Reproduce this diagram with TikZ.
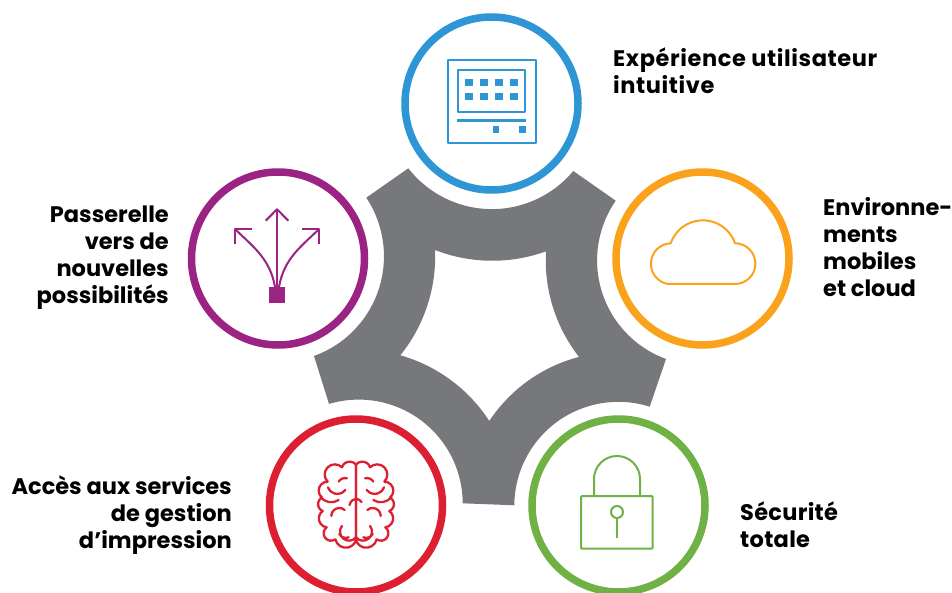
\documentclass[tikz,border=0pt]{standalone}
\usepackage{fontspec}
\setmainfont{Poppins}[BoldFont={Poppins Bold}]
\usetikzlibrary{svg.path}
\definecolor{cblue}{HTML}{2E96D5}
\definecolor{cpurple}{HTML}{9B2383}
\definecolor{corange}{HTML}{FAA21B}
\definecolor{cred}{HTML}{DC2032}
\definecolor{cgreen}{HTML}{6FB144}
\definecolor{cgray}{HTML}{77787B}
\tikzset{
  ring/.style={circle,draw,line width=7.5pt,minimum size=173pt,inner sep=0pt},
  lbl/.style={font=\bfseries\fontsize{22.5}{26.9}\selectfont,inner sep=0pt},
  icon/.style={line width=2pt,line join=round},
}
\begin{document}
\begin{tikzpicture}[x=1pt,y=-1pt]
\useasboundingbox (0,0) rectangle (952,593);
\clip (0,0) rectangle (952,593);
\begin{scope}[yscale=-1]
\fill[cgray,even odd rule] svg "M 408.3 168.3 A 106 106 0 0 0 573.3 171 L 615.7 200.7 A 105 105 0 0 0 666 359 L 649.7 406.7 A 104 104 0 0 0 514.3 504.3 L 462.7 503.3 A 104 104 0 0 0 329 404.7 L 314 356 A 106 106 0 0 0 366.3 197.7 Z M 435 250 A 157.6 157.6 0 0 0 546 251.3 A 157 157 0 0 0 579 357 A 154 154 0 0 0 489.3 421 A 157 157 0 0 0 400.3 355.3 A 157 157 0 0 0 435 250 Z";
\end{scope}
\node[ring,draw=cblue] (blue) at (491.5,103.5) {};
\node[ring,draw=cpurple] (purple) at (278,258.5) {};
\node[ring,draw=corange] (orange) at (702.5,258.5) {};
\node[ring,draw=cred] (red) at (356,505.5) {};
\node[ring,draw=cgreen] (green) at (618.5,505.5) {};
\node[lbl,anchor=north west,align=left] (t1) at (613,47.5) {\addfontfeature{LetterSpace=2.7}Expérience utilisateur\\\addfontfeature{LetterSpace=2.7}intuitive};
\node[lbl,anchor=north west,align=left] (t2) at (823,197.5) {Environne-\\ments\\mobiles\\et cloud};
\node[lbl,anchor=north west,align=left] (t3) at (740,501.5) {\addfontfeature{LetterSpace=1.3}Sécurité\\\addfontfeature{LetterSpace=1.3}totale};
\node[lbl,anchor=north east,align=right] (t4) at (232,476) {Accès aux services\\de gestion\\d’impression};
\node[lbl,anchor=north east,align=right] (t5) at (169,206) {Passerelle\\vers de\\nouvelles\\possibilités};
% keyboard
\begin{scope}[cblue]
\draw[icon] (447.5,60) rectangle (536,143);
\draw[icon] (458,70) rectangle (525,112);
\foreach \x in {469,484,499,514}\foreach \y in {82.7,96.7}
  \fill (\x-4,\y-3.5) rectangle (\x+4,\y+3.5);
\fill (457,118.8) rectangle (526,121.8);
\fill (492.5,126.5) rectangle (499,133);
\fill (519,126.5) rectangle (525.5,133);
\end{scope}
% arrows
\begin{scope}[cpurple,icon]
\fill (269,287) rectangle (284.7,302.7);
\draw (277,287) -- (277,209.5);
\draw (265.7,220.7) -- (277,209.3) -- (288.3,220.7);
\draw (275,287) .. controls (270,258) and (252,246) .. (235,229);
\draw (279,287) .. controls (284,258) and (302,246) .. (319,229);
\draw (235,244.3) -- (235,229) -- (251.7,229);
\draw (302.3,229) -- (319,229) -- (319,244.3);
\end{scope}
% cloud and lock shackle
\begin{scope}[yscale=-1]
\draw[corange,icon] svg "M 668 284 L 735 284 A 20.3 20.3 0 0 0 735 243.3 A 34 34 0 0 0 670.7 243.3 A 20.5 20.5 0 0 0 668 284 Z";
\draw[cgreen,icon] svg "M 594 496 L 594 479 A 23 23 0 0 1 617 456 A 23 23 0 0 1 640 479 L 640 496";
\end{scope}
\draw[cgreen,icon,rounded corners=1pt] (581,496) rectangle (652.7,548.7);
\draw[cgreen,icon] (617,512) circle (6);
\draw[cgreen,icon] (617,518) -- (617,538);
% brain
\begin{scope}[shift={(356,450)},cred]
\foreach \s in {1,-1}{
\begin{scope}[xscale=\s,yscale=-1,scale=0.3333]
\draw[line width=2.3pt,line cap=round,line join=round] svg "M 0 44 A 24 24 0 0 1 42 52 A 27 27 0 0 1 85 95 A 27 27 0 0 1 102 143 A 22 22 0 0 1 100 183 A 27 27 0 0 1 88 232 A 22 22 0 0 1 62 268 A 32 32 0 0 1 0 270 L 0 44
 M 27 85 A 22 22 0 0 1 52 95
 M 32 120 A 30 30 0 0 0 84 112
 M 52 150 A 40 40 0 0 0 107 140
 M 34 180 A 24 24 0 0 1 74 198
 M 0 262 A 26 26 0 0 1 42 228
 M 22 262 A 22 22 0 0 0 50 252";
\end{scope}}
\draw[line width=2.3pt,line cap=round] (-6.5,55) .. controls (-5,50) and (-2,49) .. (0,49) .. controls (2,49) and (5,50) .. (5.5,52);
\end{scope}
\end{tikzpicture}
\end{document}
